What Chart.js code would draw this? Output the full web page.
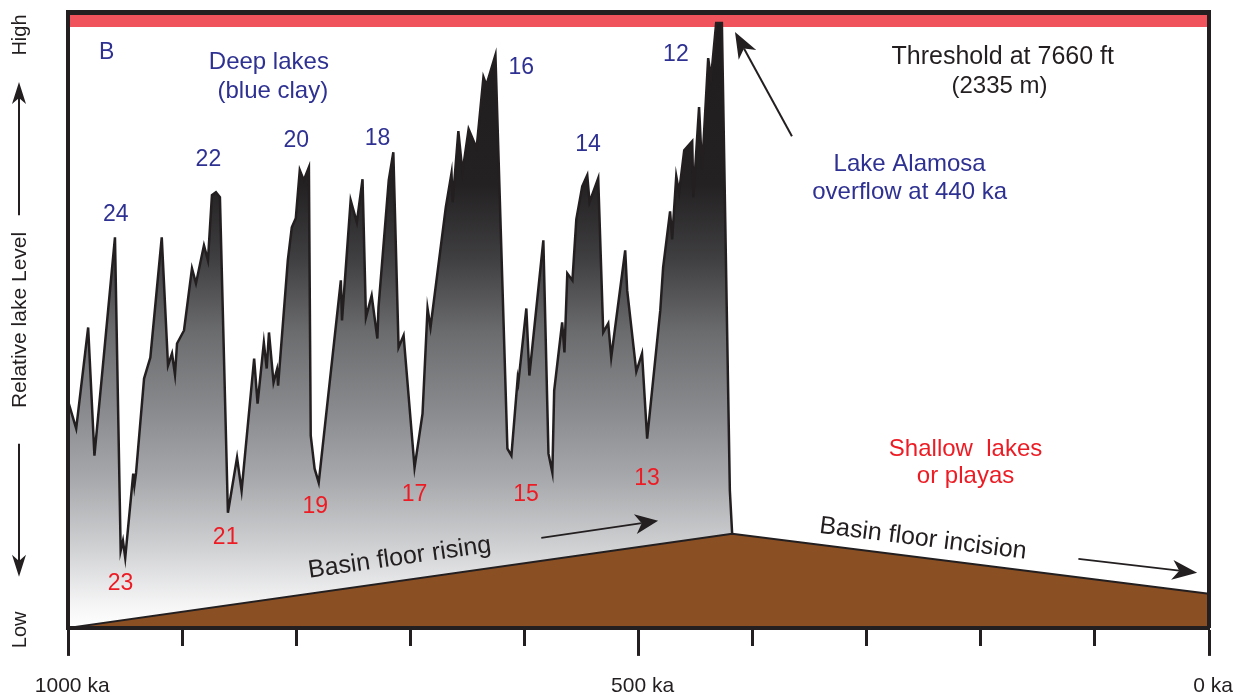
<!DOCTYPE html>
<html>
<head>
<meta charset="utf-8">
<script src="https://cdn.jsdelivr.net/npm/chart.js@4.4.1/dist/chart.umd.min.js"></script>
<style>
  html, body { margin: 0; padding: 0; background: #ffffff; }
  canvas { display: block; }
</style>
</head>
<body>
<canvas id="chart" width="1242" height="698"></canvas>
<script>
const FONT = '"Liberation Sans", Arial, Helvetica, sans-serif';
const INK = '#231f20';
const BLUE = '#2e3192';
const RED = '#ed1c24';

// ---- Lake-level record: age (ka) and relative lake level (arbitrary units, 0 = low) ----
const lakeAgeKa = [
  1000, 993, 982.5, 977, 959, 954, 952, 950, 943, 942,
  940.5, 933.5, 928, 918, 912.5, 909, 906.4, 904.6, 898.5, 891.5,
  888, 881, 877.5, 874, 870.5, 867, 860, 852, 848, 837,
  834, 828.5, 826, 824, 820, 817, 816, 807.5, 804, 800.5,
  797, 793.5, 789, 787.4, 784, 780.4, 761, 760, 752.4, 747,
  742, 739, 734, 729, 728, 719, 715, 710.4, 706, 696.4,
  689.4, 685, 682.4, 679.75, 669, 664, 663, 658, 654.4, 649,
  642, 636, 633.4, 625.5, 615, 611.5, 606, 605.4, 598.4, 595.75,
  583.5, 579, 575.6, 574, 567, 565, 562.5, 558, 554.6, 549.4,
  545, 543, 535.4, 531, 526.6, 524, 511.75, 510, 502, 497,
  492.5, 481, 478.5, 472.4, 470.6, 467, 464.5, 460, 453, 452,
  447, 444.4, 439, 436.5, 432, 427, 420, 418
];
const lakeLevel = [
  226, 199, 300, 172, 390, 77, 87, 70, 154, 142,
  155, 249, 270, 390, 262, 274, 253, 284, 297, 359,
  344, 382, 367, 432, 435, 430, 115, 170, 137, 269,
  224, 285, 259, 295, 245, 258, 242, 367, 400, 409,
  457, 447, 460, 192, 159, 145, 347, 307, 427, 405,
  448, 310, 332, 289, 320, 447, 475, 280, 292, 160,
  214, 319, 300, 324, 420, 454, 425, 496, 455, 498,
  479, 550, 542, 572, 179, 172, 249, 245, 319, 252,
  387, 174, 155, 237, 305, 275, 354, 347, 408, 441,
  452, 425, 449, 295, 304, 270, 377, 337, 256, 274,
  189, 317, 360, 416, 388, 451, 435, 477, 486, 430,
  520, 458, 569, 549, 604, 604, 137, 94
];

// ---- Basin floor ----
const floorAgeKa = [1000, 418, 0];
const floorLevel = [0, 94, 34];

// ---- Overflow threshold band ----
const thresholdAgeKa = [1000, 0];
const thresholdTop = 615;
const thresholdBase = 600;

// ---- Axes ----
const xTickValues = [1000, 500, 0];        // labelled (long) ticks
const xMinorTicks = [900, 800, 700, 600, 400, 300, 200, 100];  // short ticks
const xUnit = 'ka';
const yMin = 0, yMax = 615;
const yTitle = 'Relative lake Level';
const yHigh = 'High', yLow = 'Low';

// ---- Annotations (text baseline centre, in data units) ----
const notes = [
  { text: 'B', ka: 966.3, lvl: 568, color: BLUE, size: 23 },
  { text: 'Deep lakes', ka: 824.1, lvl: 558, color: BLUE, size: 24 },
  { text: '(blue clay)', ka: 820.6, lvl: 529, color: BLUE, size: 24 },
  { text: '24', ka: 958.3, lvl: 406, color: BLUE, size: 23 },
  { text: '22', ka: 877.1, lvl: 461, color: BLUE, size: 23 },
  { text: '20', ka: 800.1, lvl: 480, color: BLUE, size: 23 },
  { text: '18', ka: 728.9, lvl: 482, color: BLUE, size: 23 },
  { text: '16', ka: 602.9, lvl: 553, color: BLUE, size: 23 },
  { text: '14', ka: 544.3, lvl: 476, color: BLUE, size: 23 },
  { text: '12', ka: 467.3, lvl: 566, color: BLUE, size: 23 },
  { text: '23', ka: 954.1, lvl: 38, color: RED, size: 23 },
  { text: '21', ka: 862, lvl: 84, color: RED, size: 23 },
  { text: '19', ka: 783.4, lvl: 115, color: RED, size: 23 },
  { text: '17', ka: 696.4, lvl: 127, color: RED, size: 23 },
  { text: '15', ka: 598.6, lvl: 127, color: RED, size: 23 },
  { text: '13', ka: 492.7, lvl: 143, color: RED, size: 23 },
  { text: 'Threshold at 7660 ft', ka: 180.8, lvl: 563, color: INK, size: 25 },
  { text: '(2335 m)', ka: 183.6, lvl: 534, color: INK, size: 24 },
  { text: 'Lake Alamosa', ka: 262.4, lvl: 456, color: BLUE, size: 24 },
  { text: 'overflow at 440 ka', ka: 262.4, lvl: 428, color: BLUE, size: 24 },
  { text: 'Shallow  lakes', ka: 213.4, lvl: 172, color: RED, size: 24 },
  { text: 'or playas', ka: 213.4, lvl: 145, color: RED, size: 24 }
];
const slopeNotes = [
  { text: 'Basin floor rising', ka: 708.6, lvl: 63, seg: 0, size: 25 },
  { text: 'Basin floor incision', ka: 251.4, lvl: 82, seg: 1, size: 25 }
];
const arrows = [
  { from: [585.3, 90], to: [482.9, 107], lw: 1.8, head: 23, half: 10 },
  { from: [114.5, 69], to: [10.4, 55], lw: 1.8, head: 25, half: 10 },
  { from: [365.6, 491], to: [415.5, 595], lw: 2, head: 26, half: 10 }
];
const axisArrows = [
  { from: 412, to: 545 },
  { from: 184, to: 51 }
];

let gradCache = null;
function lakeFill(context) {
  const chart = context.chart;
  const area = chart.chartArea;
  if (!area) return '#777777';
  const key = area.top + ':' + area.bottom;
  if (gradCache && gradCache.key === key) return gradCache.g;
  const g = chart.ctx.createLinearGradient(0, area.top, 0, area.bottom);
  [[0, '#1e1c1d'], [0.28, '#232122'], [0.40, '#3f3e40'], [0.52, '#6b6c6e'],
   [0.65, '#8a8b8e'], [0.76, '#a8a9ac'], [0.87, '#d0d1d3'], [0.96, '#f4f4f5'], [1, '#ffffff']]
    .forEach(([o, c]) => g.addColorStop(o, c));
  gradCache = { key, g };
  return g;
}

function drawArrow(ctx, x1, y1, x2, y2, lw, head, half) {
  const a = Math.atan2(y2 - y1, x2 - x1);
  const c = Math.cos(a), s = Math.sin(a);
  const nx = x2 - c * head * 0.72, ny = y2 - s * head * 0.72;
  ctx.strokeStyle = INK; ctx.fillStyle = INK; ctx.lineWidth = lw;
  ctx.beginPath(); ctx.moveTo(x1, y1); ctx.lineTo(nx, ny); ctx.stroke();
  ctx.beginPath();
  ctx.moveTo(x2, y2);
  ctx.lineTo(x2 - c * head + s * half, y2 - s * head - c * half);
  ctx.lineTo(nx, ny);
  ctx.lineTo(x2 - c * head - s * half, y2 - s * head + c * half);
  ctx.closePath(); ctx.fill();
}

const notesPlugin = {
  id: 'notes',
  afterDraw(chart) {
    const ctx = chart.ctx;
    const xs = chart.scales.x, ys = chart.scales.y;
    const px = v => xs.getPixelForValue(v), py = v => ys.getPixelForValue(v);
    ctx.save();
    ctx.textAlign = 'center';
    ctx.textBaseline = 'alphabetic';
    notes.forEach(n => {
      ctx.font = n.size + 'px ' + FONT;
      ctx.fillStyle = n.color;
      ctx.fillText(n.text, px(n.ka), py(n.lvl));
    });
    const segAngle = i => Math.atan2(py(floorLevel[i + 1]) - py(floorLevel[i]),
                                     px(floorAgeKa[i + 1]) - px(floorAgeKa[i]));
    slopeNotes.forEach(n => {
      ctx.save();
      ctx.translate(px(n.ka), py(n.lvl));
      ctx.rotate(segAngle(n.seg));
      ctx.font = n.size + 'px ' + FONT;
      ctx.fillStyle = INK;
      ctx.fillText(n.text, 0, 0);
      ctx.restore();
    });
    arrows.forEach(a => drawArrow(ctx, px(a.from[0]), py(a.from[1]), px(a.to[0]), py(a.to[1]), a.lw, a.head, a.half));

    // y-axis end labels and direction arrows
    const tx = ys.left + 16;
    ctx.font = '20px ' + FONT;
    ctx.fillStyle = INK;
    ctx.textBaseline = 'middle';
    [[yHigh, 592], [yLow, -2]].forEach(([t, v]) => {
      ctx.save(); ctx.translate(tx, py(v)); ctx.rotate(-Math.PI / 2); ctx.fillText(t, 0, 0); ctx.restore();
    });
    axisArrows.forEach(a => drawArrow(ctx, tx - 1, py(a.from), tx - 1, py(a.to), 2, 22, 7));
    ctx.restore();
  }
};

const isMajor = v => xTickValues.includes(v);

new Chart(document.getElementById('chart'), {
  type: 'line',
  data: {
    datasets: [
      {
        label: 'Basin floor',
        data: floorAgeKa.map((a, i) => ({ x: a, y: floorLevel[i] })),
        borderColor: INK, borderWidth: 2,
        backgroundColor: '#8b4f24', fill: 'origin',
        pointRadius: 0, tension: 0, xAxisID: 'x', yAxisID: 'y'
      },
      {
        label: 'Lake level',
        data: lakeAgeKa.map((a, i) => ({ x: a, y: lakeLevel[i] })),
        borderColor: INK, borderWidth: 2.5, borderJoinStyle: 'miter',
        backgroundColor: lakeFill, fill: 'origin',
        pointRadius: 0, tension: 0, xAxisID: 'x', yAxisID: 'y'
      },
      {
        label: 'Threshold',
        data: thresholdAgeKa.map(a => ({ x: a, y: thresholdTop })),
        borderColor: 'rgba(0,0,0,0)', borderWidth: 0,
        backgroundColor: '#f0535b', fill: { value: thresholdBase },
        pointRadius: 0, tension: 0, xAxisID: 'x', yAxisID: 'y'
      }
    ]
  },
  options: {
    responsive: false,
    animation: false,
    events: [],
    layout: { padding: { left: 4, right: 33, top: 12, bottom: 0 } },
    plugins: { legend: { display: false }, tooltip: { enabled: false } },
    scales: {
      x: {
        type: 'linear', axis: 'x', position: 'bottom', min: 0, max: 1000, reverse: true,
        afterBuildTicks: ax => {
          ax.ticks = xTickValues.concat(xMinorTicks).sort((a, b) => b - a).map(v => ({ value: v }));
        },
        afterFit: ax => {
          ax.paddingLeft = 0; ax.paddingRight = 0;
          ax.height = ax.height - ax.options.ticks.padding;
        },
        grid: {
          display: true, drawOnChartArea: false, drawTicks: true, tickLength: 28, tickWidth: 3,
          tickColor: INK, color: INK,
          tickBorderDash: ctx => (ctx.tick && isMajor(ctx.tick.value)) ? [] : [16, 40]
        },
        border: { display: true, width: 4, color: INK, z: 1 },
        ticks: {
          display: true, padding: 19, maxRotation: 0, autoSkip: false, labelOffset: 4, color: INK,
          font: { size: 21, family: FONT, lineHeight: 1.1 },
          callback: v => isMajor(v) ? v + ' ' + xUnit : ''
        }
      },
      xTop: {
        type: 'linear', axis: 'x', position: 'top', min: 0, max: 1000, reverse: true,
        afterFit: ax => { ax.height = 0; ax.paddingLeft = 0; ax.paddingRight = 0; },
        grid: { display: false, drawTicks: false },
        border: { display: true, width: 5, color: INK, z: 1 },
        ticks: { display: false }
      },
      y: {
        type: 'linear', axis: 'y', position: 'left', min: yMin, max: yMax,
        grid: { display: false, drawTicks: false },
        border: { display: true, width: 4, color: INK, z: 1 },
        ticks: { display: false },
        title: { display: true, text: yTitle, color: INK, font: { size: 21, family: FONT }, padding: { top: 3.4, bottom: 35.6 } }
      },
      yRight: {
        type: 'linear', axis: 'y', position: 'right', min: yMin, max: yMax,
        afterFit: ax => { ax.width = 0; },
        grid: { display: false, drawTicks: false },
        border: { display: true, width: 4, color: INK, z: 1 },
        ticks: { display: false }
      }
    }
  },
  plugins: [notesPlugin]
});
</script>
</body>
</html>
